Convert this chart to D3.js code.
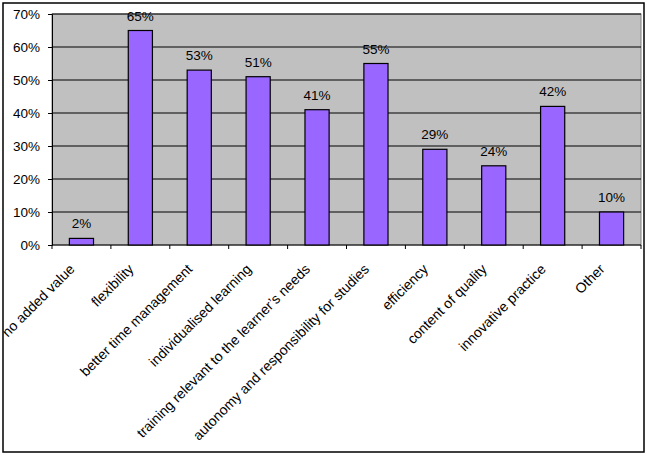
<!DOCTYPE html>
<html>
<head>
<meta charset="utf-8">
<script src="https://cdn.jsdelivr.net/npm/d3@7"></script>
<style>
  body { margin: 0; background: #fff; }
  svg text { font-family: Arial, "Liberation Sans", sans-serif; font-size: 13px; fill: #000; }
</style>
</head>
<body>
<svg id="chart" width="647" height="456"></svg>
<script>
const categories = [
  'no added value', 'flexibility', 'better time management', 'individualised learning',
  'training relevant to the learner\u2019s needs', 'autonomy and responsibility for studies',
  'efficiency', 'content of quality', 'innovative practice', 'Other'
];
const values = [2, 65, 53, 51, 41, 55, 29, 24, 42, 10];
const yTicks = [0, 10, 20, 30, 40, 50, 60, 70];

const MARGIN = { top: 14, right: 6, bottom: 211, left: 52 };
const W = 647, H = 456;

const svg = d3.select('#chart');

// outer frame
svg.append('rect')
  .attr('x', 3).attr('y', 3).attr('width', 641).attr('height', 449)
  .attr('fill', 'none').attr('stroke', '#000').attr('stroke-width', 1.5);

const x = d3.scaleBand()
  .domain(categories)
  .range([MARGIN.left, W - MARGIN.right])
  .paddingInner(0.59)
  .paddingOuter(0.295);

const y = d3.scaleLinear()
  .domain([0, 70])
  .range([H - MARGIN.bottom, MARGIN.top]);

// plot background
svg.append('rect')
  .attr('x', MARGIN.left).attr('y', MARGIN.top)
  .attr('width', W - MARGIN.right - MARGIN.left)
  .attr('height', y(0) - y(70))
  .attr('fill', '#c0c0c0').attr('stroke', '#808080');

// gridlines
svg.append('g')
  .selectAll('line')
  .data(yTicks.slice(1))
  .join('line')
  .attr('x1', MARGIN.left).attr('x2', W - MARGIN.right)
  .attr('y1', d => y(d)).attr('y2', d => y(d))
  .attr('stroke', '#000');

// y axis
const yAxis = svg.append('g')
  .attr('transform', `translate(${MARGIN.left},0)`)
  .call(d3.axisLeft(y).tickValues(yTicks).tickFormat(d => d + '%').tickSize(4).tickPadding(8));
yAxis.select('.domain').attr('stroke', '#000');
yAxis.selectAll('text').style('font-size', '13.5px').attr('font-family', null);

// x axis with ticks at band boundaries
const xAxis = svg.append('g')
  .attr('transform', `translate(0,${y(0)})`);
xAxis.append('line')
  .attr('x1', MARGIN.left).attr('x2', W - MARGIN.right)
  .attr('stroke', '#000');
const step = x.step();
xAxis.selectAll('line.tick')
  .data(d3.range(categories.length + 1))
  .join('line')
  .attr('class', 'tick')
  .attr('x1', i => MARGIN.left + i * step).attr('x2', i => MARGIN.left + i * step)
  .attr('y1', 0).attr('y2', 4)
  .attr('stroke', '#000');

xAxis.selectAll('text')
  .data(categories)
  .join('text')
  .attr('transform', d => `translate(${x(d) + x.bandwidth() / 2 - 6},${25}) rotate(-45)`)
  .attr('text-anchor', 'end')
  .style('font-size', '14px')
  .text(d => d);

// bars
svg.append('g')
  .selectAll('rect')
  .data(values)
  .join('rect')
  .attr('x', (d, i) => x(categories[i]))
  .attr('width', x.bandwidth())
  .attr('y', d => y(d))
  .attr('height', d => y(0) - y(d))
  .attr('fill', '#9966ff')
  .attr('stroke', '#000')
  .attr('stroke-width', 1.2);

// value labels
svg.append('g')
  .selectAll('text')
  .data(values)
  .join('text')
  .attr('x', (d, i) => x(categories[i]) + x.bandwidth() / 2)
  .attr('y', d => y(d) - 10)
  .attr('text-anchor', 'middle')
  .style('font-size', '13.5px')
  .text(d => d + '%');
</script>
</body>
</html>
